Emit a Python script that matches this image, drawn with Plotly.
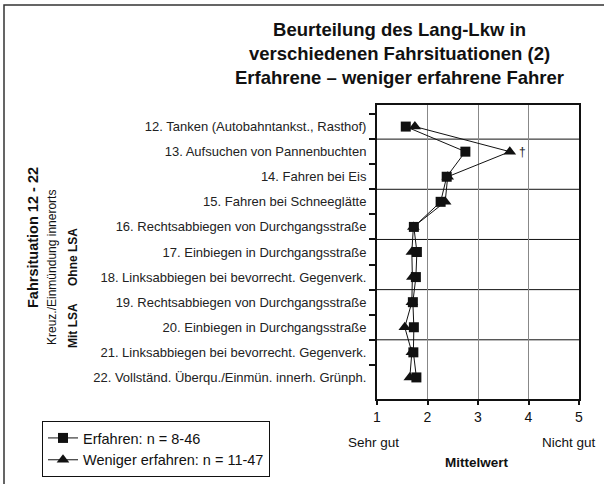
import plotly.graph_objects as go

# Fahrsituationen 12-22 (Kreuzung/Einmündung innerorts ab 16)
situationen = [
    "12. Tanken (Autobahntankst., Rasthof)",
    "13. Aufsuchen von Pannenbuchten",
    "14. Fahren bei Eis",
    "15. Fahren bei Schneeglätte",
    "16. Rechtsabbiegen von Durchgangsstraße",
    "17. Einbiegen in Durchgangsstraße",
    "18. Linksabbiegen bei bevorrecht. Gegenverk.",
    "19. Rechtsabbiegen von Durchgangsstraße",
    "20. Einbiegen in Durchgangsstraße",
    "21. Linksabbiegen bei bevorrecht. Gegenverk.",
    "22. Vollständ. Überqu./Einmün. innerh. Grünph.",
]

# Mittelwerte der Beurteilung (1 = sehr gut ... 5 = nicht gut)
erfahren = [1.57, 2.75, 2.38, 2.26, 1.73, 1.79, 1.77, 1.71, 1.73, 1.72, 1.78]
weniger_erfahren = [1.75, 3.63, 2.40, 2.35, 1.72, 1.69, 1.70, 1.69, 1.55, 1.69, 1.65]

x_ticks = [1, 2, 3, 4, 5]

FONT = "Arial, Liberation Sans, sans-serif"
W, H = 604, 484
L, R, T, B = 377, 25, 105, 85
PW, PH = W - L - R, H - T - B


def px(x):
    return (x - L) / PW


def py(y):
    return (H - B - y) / PH


def label(x, y, text, size, angle=0):
    fig.add_annotation(x=px(x), y=py(y), xref="paper", yref="paper",
                       xanchor="center", yanchor="middle", showarrow=False,
                       text=text, textangle=angle, align="center",
                       font=dict(family=FONT, size=size, color="#111"))


fig = go.Figure()

fig.add_trace(go.Scatter(
    x=erfahren, y=situationen, mode="lines+markers",
    name="Erfahren: n = 8-46",
    line=dict(color="#111", width=1),
    marker=dict(symbol="square", size=10, color="#111"),
))
fig.add_trace(go.Scatter(
    x=weniger_erfahren, y=situationen, mode="lines+markers",
    name="Weniger erfahren: n = 11-47",
    line=dict(color="#111", width=1),
    marker=dict(symbol="triangle-up", size=11, color="#111"),
))

# horizontale Trennlinien zwischen Situationspaaren
for i in range(0, len(situationen) - 1, 2):
    fig.add_shape(type="line", xref="paper", yref="y",
                  x0=0, x1=1, y0=i + 0.5, y1=i + 0.5,
                  line=dict(color="#111", width=1), layer="below")

# Kennzeichnung beim Aufsuchen von Pannenbuchten
fig.add_annotation(x=weniger_erfahren[1], y=situationen[1], text="†",
                   showarrow=False, xshift=13,
                   font=dict(family=FONT, size=12, color="#222"))

# Titel
label(399, 53,
      "<b>Beurteilung des Lang-Lkw in<br>verschiedenen Fahrsituationen (2)<br>"
      "Erfahrene – weniger erfahrene Fahrer</b>", 18.5)

# Achsenbeschriftungen unten
label(373, 442, "Sehr gut", 13.5)
label(569, 442, "Nicht gut", 13.5)
label(477, 462, "<b>Mittelwert</b>", 13.5)

# Gruppenbeschriftungen links
label(33, 238, "<b>Fahrsituation 12 - 22</b>", 14.5, -90)
label(52, 268, "Kreuz./Einmündung innerorts", 12, -90)
label(73, 257, "<b>Ohne LSA</b>", 12, -90)
label(73, 326, "<b>Mit LSA</b>", 12, -90)

# Rahmen der Grafik
fig.add_shape(type="rect", xref="paper", yref="paper",
              x0=px(4), x1=px(W + 10), y0=py(H + 10), y1=py(5),
              line=dict(color="#333", width=1.5), layer="below")

fig.update_layout(
    width=W, height=H,
    margin=dict(l=L, r=R, t=T, b=B, autoexpand=False),
    paper_bgcolor="white", plot_bgcolor="white",
    font=dict(family=FONT, color="#111"),
    showlegend=True,
    legend=dict(
        x=px(42), y=py(421), xanchor="left", yanchor="top",
        bordercolor="#111", borderwidth=1, bgcolor="white",
        font=dict(family=FONT, size=14.5, color="#111"),
        tracegroupgap=0, itemwidth=30,
    ),
    xaxis=dict(
        range=[1, 5], tickvals=x_ticks, ticktext=[str(v) for v in x_ticks],
        ticks="outside", ticklen=4, tickcolor="#111", tickwidth=2,
        showgrid=True, gridcolor="#888", gridwidth=1,
        showline=True, linecolor="#111", linewidth=2, mirror=True,
        zeroline=False, tickfont=dict(family=FONT, size=14, color="#111"),
        fixedrange=True,
    ),
    yaxis=dict(
        type="category", categoryorder="array", categoryarray=situationen,
        autorange="reversed", tickson="boundaries",
        ticks="outside", ticklen=6, tickcolor="#111", tickwidth=2,
        showgrid=False, showline=True, linecolor="#111", linewidth=2, mirror=True,
        tickfont=dict(family=FONT, size=13, color="#222"),
        ticklabelstandoff=6, automargin=False,
    ),
)

fig.write_html("out.html")
